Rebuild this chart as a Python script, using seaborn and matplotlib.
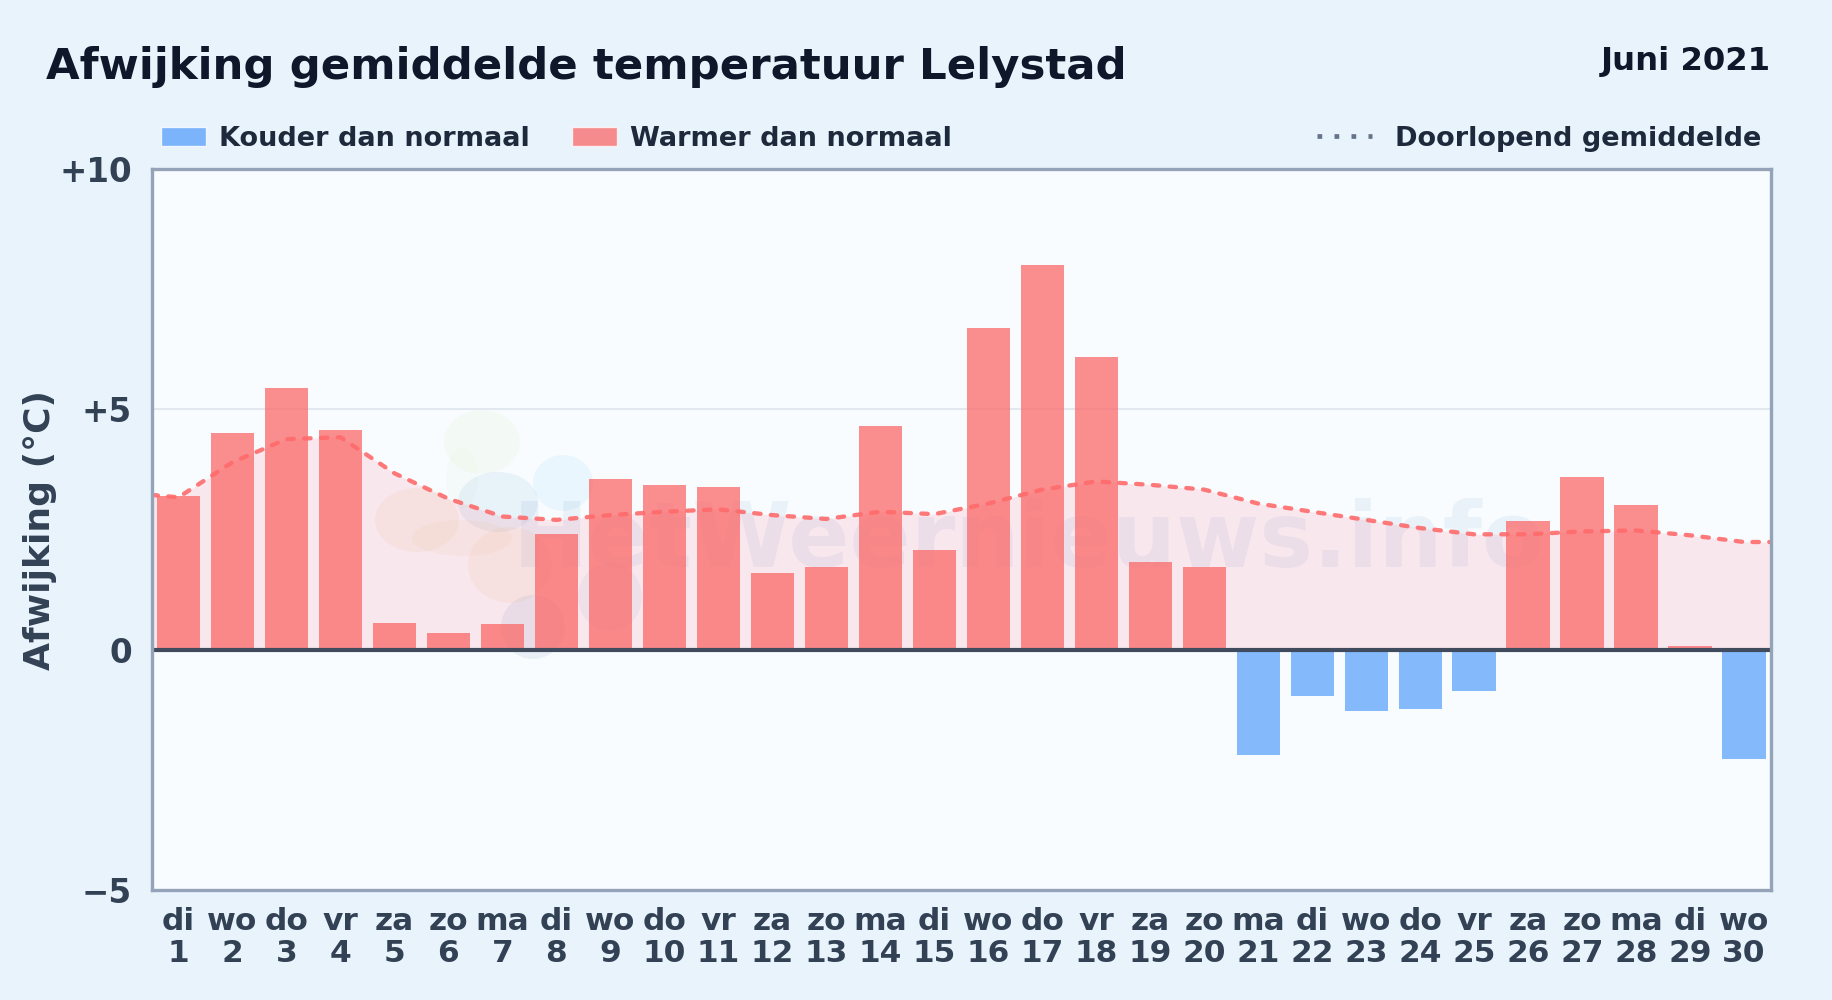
import matplotlib
matplotlib.use("Agg")
import matplotlib.pyplot as plt
from matplotlib.patches import Ellipse, Patch
from matplotlib.lines import Line2D
from matplotlib.transforms import Affine2D
import seaborn as sns
import pandas as pd

weekdays = ["di","wo","do","vr","za","zo","ma","di","wo","do","vr","za","zo","ma","di",
            "wo","do","vr","za","zo","ma","di","wo","do","vr","za","zo","ma","di","wo"]
days = list(range(1, 31))
deviation = [3.2,4.5,5.45,4.57,0.56,0.34,0.53,2.4,3.55,3.43,3.38,1.6,1.73,4.65,2.07,
             6.7,8.0,6.08,1.83,1.73,-2.2,-0.97,-1.27,-1.24,-0.85,2.67,3.6,3.0,0.07,-2.28]
running_x = [-0.5,0,1,2,3,4,5,6,7,8,9,10,11,12,13,14,15,16,17,18,19,20,21,22,23,24,25,26,27,28,29,29.5]
running = [3.22,3.17,3.9,4.38,4.42,3.67,3.14,2.77,2.7,2.8,2.87,2.92,2.8,2.72,2.87,2.82,
           3.04,3.33,3.5,3.43,3.33,3.04,2.87,2.7,2.53,2.4,2.4,2.46,2.48,2.38,2.24,2.24]
yticks = [-5, 0, 5, 10]
ytick_labels = ["\u22125", "0", "+5", "+10"]

W, H = 1832, 1000
BG, PLOT = "#e8f3fc", "#f8fcff"
RED, BLUE = "#fb6a6a", "#60a5fa"
INK, SLATE, LEGTXT = "#0f172a", "#334155", "#1e293b"

sns.set_theme(style="white")
plt.rcParams["font.family"] = ["DejaVu Sans"]

fig = plt.figure(figsize=(W/100, H/100), dpi=100, facecolor=BG)
ax = fig.add_axes([151.5/W, 1-890/H, (1771-151.5)/W, 721/H], facecolor=PLOT)
px = Affine2D().scale(1, -1).translate(0, H)

# watermark
for (cx, cy, rx, ry, c, a) in [
    (482,442,38,32,"#bbe08a",.07),(462,478,16,30,"#bbe08a",.05),
    (498,502,40,30,"#1e6fb8",.07),(563,483,30,28,"#4db3f0",.08),
    (417,520,42,32,"#e0b060",.09),(462,538,50,18,"#e0b060",.07),(510,565,42,38,"#e0b060",.09),
    (533,627,32,32,"#1e4f9a",.07),(610,597,32,34,"#1e4f9a",.05)]:
    ax.add_patch(Ellipse((cx, cy), 2*rx, 2*ry, transform=px, fc=c, ec="none", alpha=a, zorder=0.5))
ax.text(1545, 567, "HetWeernieuws.info", transform=px, ha="right", va="baseline", fontsize=65,
        fontweight="bold", color="#2f6fb5", alpha=0.07, zorder=0.6, clip_on=True)

df = pd.DataFrame({
    "dag": [f"{w}\n{d}" for w, d in zip(weekdays, days)],
    "afwijking": deviation,
    "soort": ["warm" if v >= 0 else "koud" for v in deviation],
})
ax.axhline(5, color="#e2e8f0", lw=1.5, zorder=1)
ax.fill_between(running_x, running, 0, color="#ff5f7a", alpha=0.13, lw=0, zorder=1.5)
sns.barplot(data=df, x="dag", y="afwijking", hue="soort", order=df["dag"].tolist(),
            palette={"warm": RED, "koud": BLUE}, dodge=False, width=0.8, saturation=1,
            alpha=0.76, legend=False, ax=ax, zorder=2, linewidth=0, edgecolor="none")
sns.lineplot(x=running_x, y=running, color="#ff6b6b", lw=3.1, alpha=0.9, ax=ax, zorder=3,
             linestyle=(0, (1.5, 2.4)), dash_capstyle="round", errorbar=None)
ax.axhline(0, color="#414b5e", lw=3, zorder=4)

ax.set_xlim(-0.5, 29.5)
ax.set_ylim(-5, 10)
ax.set_yticks(yticks, ytick_labels)
ax.set_xlabel("")
ax.set_ylabel("")
ax.grid(False)
ax.tick_params(axis="y", length=0, pad=14, labelsize=23.5, labelcolor=SLATE)
ax.tick_params(axis="x", length=0, pad=12, labelsize=22.5, labelcolor=SLATE)
for t in ax.get_xticklabels() + ax.get_yticklabels():
    t.set_fontweight("bold")
for t in ax.get_xticklabels():
    t.set_linespacing(1.15)
for s in ax.spines.values():
    s.set_visible(True)
    s.set_color("#94a3b8")
    s.set_linewidth(2.4)
    s.set_zorder(5)

fig.text(40/W, 1-530/H, "Afwijking (\u00b0C)", rotation=90, ha="center", va="center",
         fontsize=26, fontweight="bold", color=SLATE)
fig.text(46/W, 1-79/H, "Afwijking gemiddelde temperatuur Lelystad", ha="left", va="baseline",
         fontsize=31.3, fontweight="bold", color=INK)
fig.text(1771/W, 1-70/H, "Juni 2021", ha="right", va="baseline",
         fontsize=23.2, fontweight="bold", color=INK)

leg1 = fig.legend(handles=[Patch(fc=BLUE, alpha=0.8, label="Kouder dan normaal"),
                           Patch(fc=RED, alpha=0.76, label="Warmer dan normaal")],
                  loc="center left", bbox_to_anchor=(161/W, 1-138.5/H), ncol=2, frameon=False,
                  borderpad=0, borderaxespad=0, prop={"weight": "bold", "size": 19.5},
                  handlelength=1.65, handleheight=0.7, handletextpad=0.5, columnspacing=1.55,
                  labelcolor=LEGTXT)
leg2 = fig.legend(handles=[Line2D([], [], color="#64748b", lw=3.4, linestyle=(0, (1, 2.6)),
                                  label="Doorlopend gemiddelde")],
                  loc="center right", bbox_to_anchor=(1761/W, 1-138.5/H), frameon=False,
                  borderpad=0, borderaxespad=0, prop={"weight": "bold", "size": 19.5},
                  handlelength=2.0, handletextpad=0.85, labelcolor=LEGTXT)
fig.savefig("out.png", dpi=100, facecolor=BG)
